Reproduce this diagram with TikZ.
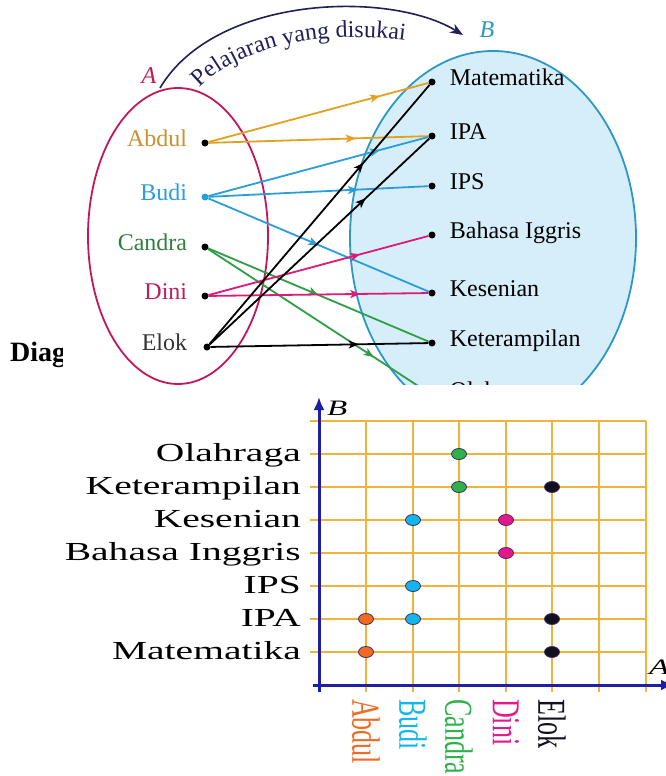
\documentclass[tikz,border=0pt]{standalone}
\usepackage{fontspec}
\setmainfont{Liberation Serif}
\usetikzlibrary{arrows.meta, positioning, decorations.markings, decorations.text}

\definecolor{setArim}{HTML}{C2185B}
\definecolor{setBrim}{HTML}{2B98C6}
\definecolor{setBfill}{HTML}{D6EEFA}
\definecolor{arcnavy}{HTML}{1F2058}
\definecolor{abdultop}{HTML}{E3A11F}
\definecolor{abdullbl}{HTML}{C9922E}
\definecolor{buditop}{HTML}{2A9ED9}
\definecolor{candratop}{HTML}{2E9E48}
\definecolor{candralbl}{HTML}{2F8040}
\definecolor{dinitop}{HTML}{DD1A76}
\definecolor{dinilbl}{HTML}{B8215F}
\definecolor{eloklbl}{HTML}{333333}
\definecolor{gridline}{HTML}{F2B33D}
\definecolor{axisblue}{HTML}{1E1EA6}
\definecolor{abdulpt}{HTML}{F26A21}
\definecolor{budipt}{HTML}{12B6EC}
\definecolor{candrapt}{HTML}{2DB24A}
\definecolor{dinipt}{HTML}{E6178C}
\definecolor{elokpt}{HTML}{12101E}
\definecolor{ptrim}{HTML}{3C2D5E}

\begin{document}
\begin{tikzpicture}[x=1pt, y=-1pt,
    dot/.style={circle, fill=black, inner sep=0pt, minimum size=7pt},
    lbl/.style={inner sep=0pt, text height=0.68em, text depth=0pt, font=\fontsize{24}{24}\selectfont},
    link/.style={line width=1.8pt},
    tipat/.style={postaction={decorate}, decoration={markings,
        mark=at position #1 with {\arrow{Stealth[length=10pt, width=8pt, inset=2.5pt]}}}},
    blbl/.style={inner sep=0pt, anchor=base east, font=\fontsize{26}{26}\selectfont},
    grid/.style={gridline, line width=1.2pt}]
    \useasboundingbox (0,0) rectangle (666,776);

    % heading behind the first picture
    \node[anchor=base west, inner sep=0pt, font=\bfseries\fontsize{28}{28}\selectfont] (head) at (10,361) {Diag};

    % first picture: arrow diagram
    \fill[white] (63,0) rectangle (666,385);
    \begin{scope}
    \clip (63,0) rectangle (666,385);

    % the two sets
    \filldraw[fill=setBfill, draw=setBrim, line width=1.8pt] (493,238) ellipse [x radius=143, y radius=187];
    \draw[setArim, line width=1.8pt] (178,236) ellipse [x radius=90, y radius=148];
    \node[text=setArim, font=\itshape\fontsize{24}{24}\selectfont] (nameA) at (149,76) {A};
    \node[text=setBrim, font=\itshape\fontsize{24}{24}\selectfont] (nameB) at (487,30) {B};

    % relation arrow with its name
    \coordinate (arcS) at (160,88);
    \coordinate (arcE) at (463,35);
    \draw[arcnavy, line width=1.6pt, -{Stealth[length=13pt, width=10pt]}] (arcS) .. controls (215,-5) and (390,-10) .. (arcE);
    \coordinate (txtS) at (194,95);
    \coordinate (txtE) at (414,42);
    \path[decorate, decoration={text along path, text align=center, text color=arcnavy,
        text={|\fontsize{24}{24}\selectfont|Pelajaran yang disukai}}]
        (txtS) .. controls (228,52) and (312,26) .. (txtE);

    % members of A
    \node[dot] (ab) at (205,143) {};
    \node[dot, fill=buditop] (bu) at (205,197) {};
    \node[dot] (ca) at (205,247) {};
    \node[dot] (di) at (205,296) {};
    \node[dot] (el) at (207,347) {};
    \node[lbl, text=abdullbl, left=14pt of ab] (abL) {Abdul};
    \node[lbl, text=buditop, left=14pt of bu] (buL) {Budi};
    \node[lbl, text=candralbl, left=14pt of ca] (caL) {Candra};
    \node[lbl, text=dinilbl, left=14pt of di] (diL) {Dini};
    \node[lbl, text=eloklbl, left=16pt of el] (elL) {Elok};

    % members of B
    \node[dot] (ma) at (432,82) {};
    \node[dot] (ipa) at (432,136) {};
    \node[dot] (ips) at (432,186) {};
    \node[dot] (bi) at (432,235) {};
    \node[dot] (ks) at (432,293) {};
    \node[dot] (kt) at (432,343) {};
    \node[dot] (or) at (432,395) {};
    \node[lbl, right=14pt of ma] (maL) {Matematika};
    \node[lbl, right=14pt of ipa] (ipaL) {IPA};
    \node[lbl, right=14pt of ips] (ipsL) {IPS};
    \node[lbl, right=14pt of bi] (biL) {Bahasa Iggris};
    \node[lbl, right=14pt of ks] (ksL) {Kesenian};
    \node[lbl, right=14pt of kt] (ktL) {Keterampilan};
    \node[lbl, right=14pt of or] (orL) {Olahraga};

    % who likes what
    \draw[link, abdultop, tipat=0.78] (ab) -- (ma);
    \draw[link, abdultop, tipat=0.67] (ab) -- (ipa);
    \draw[link, buditop, tipat=0.78] (bu) -- (ipa);
    \draw[link, buditop, tipat=0.68] (bu) -- (ips);
    \draw[link, buditop, tipat=0.5] (bu) -- (ks);
    \draw[link, candratop, tipat=0.5] (ca) -- (kt);
    \draw[link, candratop, tipat=0.75] (ca) -- (or);
    \draw[link, dinitop, tipat=0.69] (di) -- (bi);
    \draw[link, dinitop, tipat=0.69] (di) -- (ks);
    \draw[link, black, tipat=0.70] (el) -- (ma);
    \draw[link, black, tipat=0.71] (el) -- (ipa);
    \draw[link, black, tipat=0.68] (el) -- (kt);
    \end{scope}

    % second picture: Cartesian diagram
    \fill[white] (60,385) rectangle (666,776);
    \begin{scope}
    \clip (60,385) rectangle (666,776);
    \foreach \gx in {366,413,459,506,552,599,646}
        \draw[grid] (\gx,421) -- (\gx,692);
    \foreach \gy in {421,454,487,520,553,586,619,652}
        \draw[grid] (310,\gy) -- (646,\gy);

    \coordinate (orig) at (319,685);
    \coordinate (yEnd) at (319,397);
    \coordinate (xEnd) at (674,685);
    \draw[axisblue, line width=3pt, -{Latex[length=13pt, width=11pt]}] (319,692) -- (yEnd);
    \draw[axisblue, line width=3pt, -{Latex[length=13pt, width=11pt]}] (313,685) -- (xEnd);
    \node[anchor=west, inner sep=0pt, font=\itshape\fontsize{22}{22}\selectfont] (axB) at (327,408) {\scalebox{1.5}[1]{B}};
    \node[anchor=west, inner sep=0pt, font=\itshape\fontsize{22}{22}\selectfont] (axA) at (649,667) {\scalebox{1.5}[1]{A}};

    % subjects
    \node[blbl] (rOr) at (301,461) {\scalebox{1.52}[1]{Olahraga}};
    \node[blbl] (rKt) at (301,494) {\scalebox{1.52}[1]{Keterampilan}};
    \node[blbl] (rKs) at (301,527) {\scalebox{1.52}[1]{Kesenian}};
    \node[blbl] (rBi) at (301,560) {\scalebox{1.52}[1]{Bahasa Inggris}};
    \node[blbl] (rIps) at (301,593) {\scalebox{1.52}[1]{IPS}};
    \node[blbl] (rIpa) at (301,626) {\scalebox{1.52}[1]{IPA}};
    \node[blbl] (rMa) at (301,659) {\scalebox{1.52}[1]{Matematika}};

    % students
    \foreach \cx/\who/\cc in {366/Abdul/abdulpt, 413/Budi/budipt, 459/Candra/candrapt, 506/Dini/dinipt, 552/Elok/elokpt}
        \node[rotate=-90, anchor=west, inner sep=0pt, text=\cc, font=\fontsize{26}{26}\selectfont] (c\who) at (\cx,699) {\scalebox{1}[1.52]{\who}};

    % ordered pairs
    \foreach \cx/\cy/\cc in {366/619/abdulpt, 366/652/abdulpt,
                             413/520/budipt, 413/586/budipt, 413/619/budipt,
                             459/454/candrapt, 459/487/candrapt,
                             506/520/dinipt, 506/553/dinipt,
                             552/487/elokpt, 552/619/elokpt, 552/652/elokpt}
        \filldraw[fill=\cc, draw=ptrim, line width=0.8pt] (\cx,\cy) ellipse [x radius=7.5, y radius=5.5];
    \end{scope}
\end{tikzpicture}
\end{document}
